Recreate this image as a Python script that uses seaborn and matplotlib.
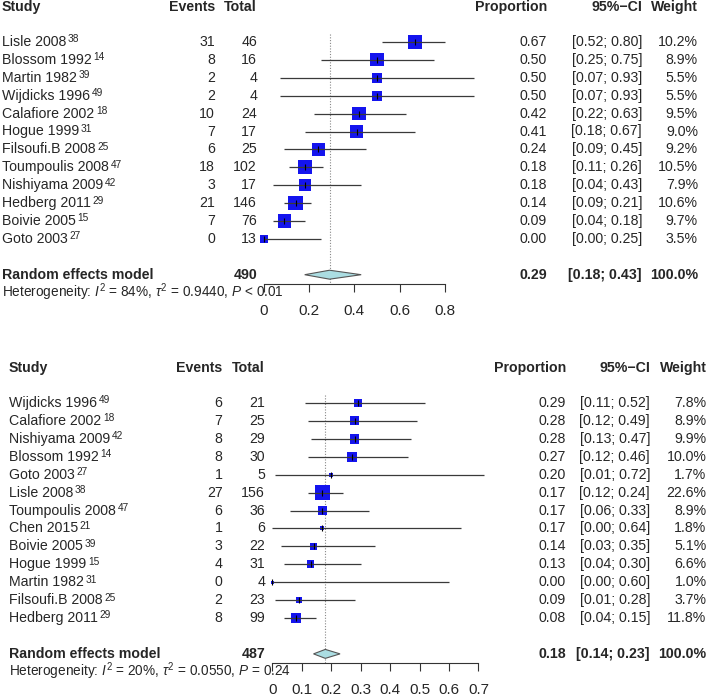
import numpy as np
import pandas as pd
import seaborn as sns
import matplotlib.pyplot as plt
from matplotlib.patches import Polygon
from matplotlib.transforms import blended_transform_factory

sns.set_style("white")
plt.rcParams['font.family'] = ['Liberation Sans', 'DejaVu Sans']
plt.rcParams['mathtext.fontset'] = 'custom'
plt.rcParams['mathtext.rm'] = 'Liberation Sans'
plt.rcParams['mathtext.it'] = 'Liberation Sans:italic'
plt.rcParams['mathtext.bf'] = 'Liberation Sans:bold'

# === data: upper forest plot ===
top_study = ["Lisle 2008", "Blossom 1992", "Martin 1982", "Wijdicks 1996", "Calafiore 2002",
             "Hogue 1999", "Filsoufi.B 2008", "Toumpoulis 2008", "Nishiyama 2009",
             "Hedberg 2011", "Boivie 2005", "Goto 2003"]
top_ref = ["38", "14", "39", "49", "18", "31", "25", "47", "42", "29", "15", "27"]
top_events = [31, 8, 2, 2, 10, 7, 6, 18, 3, 21, 7, 0]
top_total = [46, 16, 4, 4, 24, 17, 25, 102, 17, 146, 76, 13]
top_prop = [0.67, 0.50, 0.50, 0.50, 0.42, 0.41, 0.24, 0.18, 0.18, 0.14, 0.09, 0.00]
top_lower = [0.52, 0.25, 0.07, 0.07, 0.22, 0.18, 0.09, 0.11, 0.04, 0.09, 0.04, 0.00]
top_upper = [0.80, 0.75, 0.93, 0.93, 0.63, 0.67, 0.45, 0.26, 0.43, 0.21, 0.18, 0.25]
top_weight = [10.2, 8.9, 5.5, 5.5, 9.5, 9.0, 9.2, 10.5, 7.9, 10.6, 9.7, 3.5]
top_sum_total = 490
top_sum_prop, top_sum_lower, top_sum_upper = 0.29, 0.18, 0.43
top_het = r"Heterogeneity: $\mathit{I}^2$ = 84%, $\tau^2$ = 0.9440, $\mathit{P}$ < 0.01"
top_ticks = [0, 0.2, 0.4, 0.6, 0.8]
top_ticklabels = ["0", "0.2", "0.4", "0.6", "0.8"]

# === data: lower forest plot ===
bot_study = ["Wijdicks 1996", "Calafiore 2002", "Nishiyama 2009", "Blossom 1992", "Goto 2003",
             "Lisle 2008", "Toumpoulis 2008", "Chen 2015", "Boivie 2005", "Hogue 1999",
             "Martin 1982", "Filsoufi.B 2008", "Hedberg 2011"]
bot_ref = ["49", "18", "42", "14", "27", "38", "47", "21", "39", "15", "31", "25", "29"]
bot_events = [6, 7, 8, 8, 1, 27, 6, 1, 3, 4, 0, 2, 8]
bot_total = [21, 25, 29, 30, 5, 156, 36, 6, 22, 31, 4, 23, 99]
bot_prop = [0.29, 0.28, 0.28, 0.27, 0.20, 0.17, 0.17, 0.17, 0.14, 0.13, 0.00, 0.09, 0.08]
bot_lower = [0.11, 0.12, 0.13, 0.12, 0.01, 0.12, 0.06, 0.00, 0.03, 0.04, 0.00, 0.01, 0.04]
bot_upper = [0.52, 0.49, 0.47, 0.46, 0.72, 0.24, 0.33, 0.64, 0.35, 0.30, 0.60, 0.28, 0.15]
bot_weight = [7.8, 8.9, 9.9, 10.0, 1.7, 22.6, 8.9, 1.8, 5.1, 6.6, 1.0, 3.7, 11.8]
bot_sum_total = 487
bot_sum_prop, bot_sum_lower, bot_sum_upper = 0.18, 0.14, 0.23
bot_het = r"Heterogeneity: $\mathit{I}^2$ = 20%, $\tau^2$ = 0.0550, $\mathit{P}$ = 0.24"
bot_ticks = [0, 0.1, 0.2, 0.3, 0.4, 0.5, 0.6, 0.7]
bot_ticklabels = ["0", "0.1", "0.2", "0.3", "0.4", "0.5", "0.6", "0.7"]

W, H = 709, 696
fig = plt.figure(figsize=(W / 100, H / 100), dpi=100)

FS = 10.2
BLUE = "#1414EE"
DIAMOND = "#ABDDE2"


def draw_panel(ax, study, ref, events, total, prop, lower, upper, weight,
               sum_total, sum_prop, sum_lower, sum_upper, het, ticks, ticklabels, cols):
    n = len(study)
    df = pd.DataFrame({"row": np.arange(n), "prop": prop, "lower": lower,
                       "upper": upper, "weight": weight})
    sum_row = n + 1

    # reference line at pooled estimate
    ax.vlines(sum_prop, -0.45, ax.get_ylim()[0], colors="#888888", linestyles=(0, (1, 1.5)),
              lw=0.8, zorder=1, clip_on=False)
    # boxes (area ~ weight)
    sns.scatterplot(data=df, x="prop", y="row", size="weight", sizes=(0, 106),
                    size_norm=(0, max(weight)), marker="s", color=BLUE, linewidth=0,
                    legend=False, ax=ax, clip_on=False, zorder=2)
    # CIs
    ax.hlines(df["row"], df["lower"], df["upper"], colors="#3a3a3a", lw=0.9, zorder=3,
              clip_on=False)
    ax.plot(df["prop"], df["row"], linestyle="none", marker="|", markersize=4,
            markeredgewidth=0.8, color="black", zorder=4, clip_on=False)
    # pooled diamond
    ax.add_patch(Polygon([(sum_lower, sum_row), (sum_prop, sum_row - 0.25),
                          (sum_upper, sum_row), (sum_prop, sum_row + 0.25)],
                         closed=True, facecolor=DIAMOND, edgecolor="#555555", lw=0.8,
                         zorder=3, clip_on=False))

    # axis
    for s in ["top", "left", "right"]:
        ax.spines[s].set_visible(False)
    ax.spines["bottom"].set_bounds(ticks[0], ticks[-1])
    ax.spines["bottom"].set_color("#333333")
    ax.spines["bottom"].set_linewidth(0.8)
    ax.set_xticks(ticks)
    ax.set_xticklabels(ticklabels, fontsize=11)
    ax.tick_params(axis="x", direction="out", length=5.5, width=0.8, pad=9,
                   color="#333333", bottom=True)
    ax.set_yticks([])
    ax.set_xlabel("")
    ax.set_ylabel("")
    ax.patch.set_alpha(0)

    tr = blended_transform_factory(fig.transFigure, ax.transData)
    x_study, x_ev, x_tot, x_prop, x_ci, x_w = [c / W for c in cols]
    hdr = -1.95
    for x, lab, ha in [(x_study, "Study", "left"), (x_ev, "Events", "right"),
                       (x_tot, "Total", "right"), (x_prop, "Proportion", "right"),
                       (x_ci, "95%\u2212CI", "right"), (x_w, "Weight", "right")]:
        ax.text(x, hdr, lab, transform=tr, ha=ha, va="center", fontsize=FS,
                fontweight="bold")

    for i in range(n):
        t = ax.text(x_study, i, study[i], transform=tr, ha="left", va="center", fontsize=FS)
        # reference number as superscript, top aligned with cap height
        ax.annotate(ref[i], xy=(1, 1), xycoords=t, xytext=(1.2, 0.4),
                    textcoords="offset points", ha="left", va="top", fontsize=7.3)
        ax.text(x_ev, i, f"{events[i]}", transform=tr, ha="right", va="center", fontsize=FS)
        ax.text(x_tot, i, f"{total[i]}", transform=tr, ha="right", va="center", fontsize=FS)
        ax.text(x_prop, i, f"{prop[i]:.2f}", transform=tr, ha="right", va="center", fontsize=FS)
        ax.text(x_ci, i, f"[{lower[i]:.2f}; {upper[i]:.2f}]", transform=tr, ha="right",
                va="center", fontsize=FS)
        ax.text(x_w, i, f"{weight[i]:.1f}%", transform=tr, ha="right", va="center", fontsize=FS)

    bold = dict(transform=tr, va="center", fontsize=FS, fontweight="bold")
    ax.text(x_study, sum_row, "Random effects model", ha="left", **bold)
    ax.text(x_tot, sum_row, f"{sum_total}", ha="right", **bold)
    ax.text(x_prop, sum_row, f"{sum_prop:.2f}", ha="right", **bold)
    ax.text(x_ci, sum_row, f"[{sum_lower:.2f}; {sum_upper:.2f}]", ha="right", **bold)
    ax.text(x_w, sum_row, "100.0%", ha="right", **bold)
    ax.text(x_study, sum_row + 0.95, het, transform=tr, ha="left", va="center",
            fontsize=9.8)


# upper panel: 0 at x=264px, 226 px per unit; row 0 at y=42px, 17.9 px per row
ax1 = fig.add_axes([264 / W, 1 - 283.5 / H, 445 / W, 283.5 / H])
ax1.set_xlim(0, 445 / 226)
ax1.set_ylim((283.5 - 42) / 17.9, -42 / 17.9)
draw_panel(ax1, top_study, top_ref, top_events, top_total, top_prop, top_lower, top_upper,
           top_weight, top_sum_total, top_sum_prop, top_sum_lower, top_sum_upper, top_het,
           top_ticks, top_ticklabels, cols=(2, 215, 257, 547, 642, 698))

# lower panel: 0 at x=272.3px, 294.5 px per unit; row 0 at y=403px, 17.92 px per row
ax2 = fig.add_axes([272.3 / W, 1 - 662.5 / H, 436.7 / W, (662.5 - 340) / H])
ax2.set_xlim(0, 436.7 / 294.5)
ax2.set_ylim((662.5 - 403) / 17.92, (340 - 403) / 17.92)
draw_panel(ax2, bot_study, bot_ref, bot_events, bot_total, bot_prop, bot_lower, bot_upper,
           bot_weight, bot_sum_total, bot_sum_prop, bot_sum_lower, bot_sum_upper, bot_het,
           bot_ticks, bot_ticklabels, cols=(9, 222.5, 265, 566, 650, 706.5))

fig.savefig("out.png", dpi=100)
